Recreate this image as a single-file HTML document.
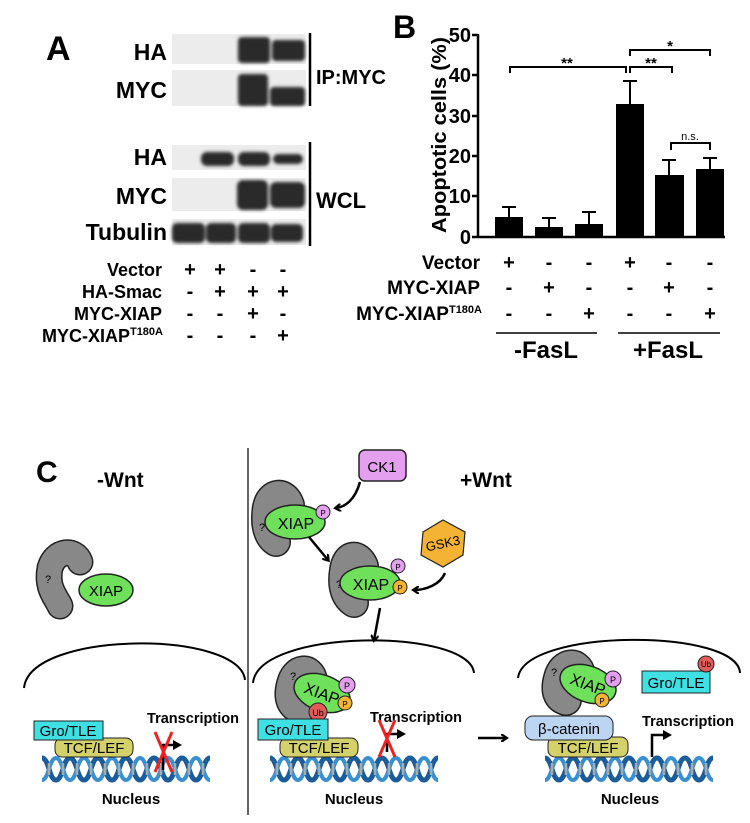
<!DOCTYPE html>
<html><head><meta charset="utf-8"><style>
html,body{margin:0;padding:0;background:#fff;}
svg{display:block;font-family:"Liberation Sans",sans-serif;font-weight:bold;}
</style></head><body>
<svg width="750" height="823" viewBox="0 0 750 823" xmlns="http://www.w3.org/2000/svg">
<defs>
<filter id="bl" x="-20%" y="-40%" width="140%" height="180%"><feGaussianBlur stdDeviation="1.6"/></filter>
<marker id="ah" markerWidth="8" markerHeight="8" refX="5" refY="4" orient="auto" markerUnits="userSpaceOnUse"><path d="M0,0 L6,4 L0,8" fill="none" stroke="#000" stroke-width="2.2"/></marker>
<marker id="ahf" markerWidth="10" markerHeight="10" refX="3" refY="5" orient="auto" markerUnits="userSpaceOnUse"><path d="M0,0 L9,5 L0,10 Z" fill="#000"/></marker>
<g id="dna">
<path d="M0,4 C7,4 7,26 14,26 C21,26 21,4 28,4 C35,4 35,26 42,26 C49,26 49,4 56,4 C63,4 63,26 70,26 C77,26 77,4 84,4 C91,4 91,26 98,26 C105,26 105,4 112,4 C119,4 119,26 126,26 C133,26 133,4 140,4 C147,4 147,26 154,26 C161,26 161,4 168,4" fill="none" stroke="#1b5d9b" stroke-width="5"/>
<path d="M0,26 C7,26 7,4 14,4 C21,4 21,26 28,26 C35,26 35,4 42,4 C49,4 49,26 56,26 C63,26 63,4 70,4 C77,4 77,26 84,26 C91,26 91,4 98,4 C105,4 105,26 112,26 C119,26 119,4 126,4 C133,4 133,26 140,26 C147,26 147,4 154,4 C161,4 161,26 168,26" fill="none" stroke="#3a8fd0" stroke-width="4"/>
<g stroke="#aaa" stroke-width="2.5"><line x1="7" y1="9" x2="7" y2="21"/><line x1="21" y1="9" x2="21" y2="21"/><line x1="35" y1="9" x2="35" y2="21"/><line x1="49" y1="9" x2="49" y2="21"/><line x1="63" y1="9" x2="63" y2="21"/><line x1="77" y1="9" x2="77" y2="21"/><line x1="91" y1="9" x2="91" y2="21"/><line x1="105" y1="9" x2="105" y2="21"/><line x1="119" y1="9" x2="119" y2="21"/><line x1="133" y1="9" x2="133" y2="21"/><line x1="147" y1="9" x2="147" y2="21"/><line x1="161" y1="9" x2="161" y2="21"/></g>
</g>
</defs>

<!-- Panel A -->
<text x="46" y="60" font-size="34">A</text>
<g fill="#ececec">
<rect x="172" y="34" width="134" height="30"/><rect x="172" y="70" width="134" height="36"/>
<rect x="172" y="145" width="134" height="25"/><rect x="172" y="178" width="134" height="33"/><rect x="172" y="219" width="134" height="26"/>
</g>
<g fill="#2a2a2a" filter="url(#bl)">
<rect x="238" y="37" width="32" height="26" rx="4"/><rect x="272" y="40" width="33" height="21" rx="4"/>
<rect x="238" y="74" width="30" height="32" rx="4"/><rect x="270" y="87" width="35" height="19" rx="4"/>
<rect x="201" y="152" width="33" height="14" rx="6"/><rect x="238" y="152" width="32" height="14" rx="6"/><rect x="273" y="154" width="30" height="10" rx="5"/>
<rect x="237" y="180" width="31" height="30" rx="6"/><rect x="270" y="182" width="35" height="26" rx="6"/>
<rect x="172" y="223" width="33" height="20" rx="5"/><rect x="206" y="223" width="30" height="20" rx="5"/><rect x="238" y="223" width="32" height="20" rx="5"/><rect x="271" y="224" width="32" height="18" rx="5"/>
</g>
<g stroke="#000" stroke-width="2.5"><line x1="310" y1="33" x2="310" y2="106"/><line x1="310" y1="142" x2="310" y2="246"/></g>
<text x="316" y="84" font-size="20">IP:MYC</text>
<text x="316" y="208" font-size="22">WCL</text>
<g font-size="23" text-anchor="end">
<text x="167" y="60">HA</text><text x="167" y="98">MYC</text><text x="167" y="165">HA</text><text x="167" y="204">MYC</text><text x="167" y="240">Tubulin</text>
</g>
<g font-size="18" text-anchor="end">
<text x="162" y="276">Vector</text><text x="162" y="298">HA-Smac</text><text x="162" y="320">MYC-XIAP</text>
<text x="163" y="342">MYC-XIAP<tspan font-size="11" dy="-7">T180A</tspan></text>
</g>
<g font-size="20" text-anchor="middle">
<text x="190" y="276">+</text><text x="220" y="276">+</text><text x="253" y="276">-</text><text x="283" y="276">-</text>
<text x="190" y="298">-</text><text x="220" y="298">+</text><text x="253" y="298">+</text><text x="283" y="298">+</text>
<text x="190" y="320">-</text><text x="220" y="320">-</text><text x="253" y="320">+</text><text x="283" y="320">-</text>
<text x="190" y="342">-</text><text x="220" y="342">-</text><text x="253" y="342">-</text><text x="283" y="342">+</text>
</g>

<!-- Panel B -->
<text x="393" y="38" font-size="32">B</text>
<text transform="translate(446,135) rotate(-90)" font-size="20" text-anchor="middle" textLength="196" lengthAdjust="spacingAndGlyphs">Apoptotic cells (%)</text>
<g stroke="#000" stroke-width="2.5" fill="none">
<line x1="478" y1="34" x2="478" y2="237"/><line x1="478" y1="237" x2="725" y2="237"/>
<line x1="472" y1="35" x2="478" y2="35"/><line x1="472" y1="75" x2="478" y2="75"/><line x1="472" y1="116" x2="478" y2="116"/><line x1="472" y1="156" x2="478" y2="156"/><line x1="472" y1="196" x2="478" y2="196"/><line x1="472" y1="237" x2="478" y2="237"/>
</g>
<g font-size="20" text-anchor="end">
<text x="471" y="42">50</text><text x="471" y="82">40</text><text x="471" y="123">30</text><text x="471" y="163">20</text><text x="471" y="203">10</text><text x="471" y="244">0</text>
</g>
<g fill="#000">
<rect x="495" y="217" width="28" height="20"/><rect x="535" y="227" width="28" height="10"/><rect x="575" y="224" width="28" height="13"/>
<rect x="616" y="104" width="28" height="133"/><rect x="655" y="175" width="29" height="62"/><rect x="696" y="169" width="28" height="68"/>
</g>
<g stroke="#000" stroke-width="2" fill="none">
<path d="M509,217 V207 M502,207 H516"/><path d="M549,227 V218 M542,218 H556"/><path d="M589,224 V212 M582,212 H596"/>
<path d="M630,104 V81 M623,81 H637"/><path d="M669,175 V160 M662,160 H676"/><path d="M710,169 V158 M703,158 H717"/>
<path d="M510,73 V67 H626 V73"/><path d="M630,73 V67 H672 V73"/><path d="M630,56 V50 H710 V56"/><path d="M671,150 V143 H710 V150"/>
</g>
<g text-anchor="middle"><text x="567" y="68" font-size="15">**</text><text x="651" y="68" font-size="15">**</text><text x="670" y="51" font-size="15">*</text><text x="690" y="140" font-size="11" font-weight="normal">n.s.</text></g>
<g font-size="19" text-anchor="end">
<text x="480" y="269">Vector</text><text x="480" y="294">MYC-XIAP</text><text x="482" y="320">MYC-XIAP<tspan font-size="11" dy="-7">T180A</tspan></text>
</g>
<g font-size="20" text-anchor="middle">
<text x="509" y="269">+</text><text x="549" y="269">-</text><text x="589" y="269">-</text><text x="630" y="269">+</text><text x="669" y="269">-</text><text x="710" y="269">-</text>
<text x="509" y="294">-</text><text x="549" y="294">+</text><text x="589" y="294">-</text><text x="630" y="294">-</text><text x="669" y="294">+</text><text x="710" y="294">-</text>
<text x="509" y="320">-</text><text x="549" y="320">-</text><text x="589" y="320">+</text><text x="630" y="320">-</text><text x="669" y="320">-</text><text x="710" y="320">+</text>
</g>
<g stroke="#000" stroke-width="1.5"><line x1="496" y1="333" x2="597" y2="333"/><line x1="618" y1="333" x2="720" y2="333"/></g>
<g font-size="24" text-anchor="middle"><text x="546" y="358">-FasL</text><text x="668" y="358">+FasL</text></g>

<!-- Panel C -->
<text x="36" y="482" font-size="30">C</text>
<text x="97" y="487" font-size="21">-Wnt</text>
<text x="460" y="487" font-size="21">+Wnt</text>
<line x1="248" y1="448" x2="248" y2="815" stroke="#333" stroke-width="1.5"/>

<!-- -Wnt complex -->
<path d="M80,562 C75,548 55,550 50,568 C46,588 56,597 60,606" fill="none" stroke="#222" stroke-width="27" stroke-linecap="round"/>
<path d="M80,562 C75,548 55,550 50,568 C46,588 56,597 60,606" fill="none" stroke="#888" stroke-width="24" stroke-linecap="round"/>
<text x="45" y="583" font-size="11" font-weight="normal">?</text>
<ellipse cx="106" cy="590" rx="27" ry="16" fill="#6ee05a" stroke="#222" stroke-width="1.5"/>
<text x="106" y="596" font-size="15" font-weight="normal" text-anchor="middle">XIAP</text>

<!-- CK1 -->
<rect x="359" y="450" width="47" height="31" rx="6" fill="#e4a0ee" stroke="#222" stroke-width="1.5"/>
<text x="382" y="472" font-size="15" font-weight="normal" text-anchor="middle">CK1</text>
<path d="M360,482 C355,500 345,507 336,508" fill="none" stroke="#000" stroke-width="2.5" marker-end="url(#ah)"/>

<!-- upper complex -->
<path d="M290,505 C285,490 270,492 267,507 C264,525 268,537 276,542" fill="none" stroke="#222" stroke-width="30" stroke-linecap="round"/>
<path d="M290,505 C285,490 270,492 267,507 C264,525 268,537 276,542" fill="none" stroke="#888" stroke-width="27" stroke-linecap="round"/>
<text x="259" y="531" font-size="11" font-weight="normal">?</text>
<ellipse cx="295" cy="522" rx="30" ry="17" fill="#6ee05a" stroke="#222" stroke-width="1.5"/>
<text x="296" y="529" font-size="16" font-weight="normal" text-anchor="middle">XIAP</text>
<circle cx="323" cy="512" r="7" fill="#e4a0ee" stroke="#222"/><text x="323" y="516" font-size="8" text-anchor="middle" font-weight="normal">P</text>
<path d="M309,537 L328,560" stroke="#000" stroke-width="2.5" marker-end="url(#ah)"/>

<!-- middle complex -->
<path d="M364,566 C358,552 346,554 344,570 C341,588 346,598 354,603" fill="none" stroke="#222" stroke-width="30" stroke-linecap="round"/>
<path d="M364,566 C358,552 346,554 344,570 C341,588 346,598 354,603" fill="none" stroke="#888" stroke-width="27" stroke-linecap="round"/>
<text x="336" y="588" font-size="11" font-weight="normal">?</text>
<ellipse cx="370" cy="583" rx="30" ry="17" fill="#6ee05a" stroke="#222" stroke-width="1.5"/>
<text x="371" y="590" font-size="16" font-weight="normal" text-anchor="middle">XIAP</text>
<circle cx="398" cy="566" r="7" fill="#e4a0ee" stroke="#222"/><text x="398" y="570" font-size="8" text-anchor="middle" font-weight="normal">P</text>
<circle cx="400" cy="587" r="7" fill="#f5b335" stroke="#222"/><text x="400" y="591" font-size="8" text-anchor="middle" font-weight="normal">P</text>
<polygon points="443,520 465,532 463,555 443,567 421,555 423,532" fill="#f5b335" stroke="#222" stroke-width="1.2"/>
<text x="443" y="548" font-size="13" font-weight="normal" text-anchor="middle" transform="rotate(-12 443 544)">GSK3</text>
<path d="M445,573 C440,585 425,590 414,590" fill="none" stroke="#000" stroke-width="2.5" marker-end="url(#ah)"/>
<path d="M380,608 L374,640" stroke="#000" stroke-width="2.5" marker-end="url(#ah)"/>

<!-- nuclear arcs -->
<g fill="none" stroke="#000" stroke-width="2">
<path d="M24,688 C30,630 240,630 245,680"/>
<path d="M253,683 C258,628 470,628 474,673"/>
<path d="M518,678 C524,628 738,628 740,673"/>
</g>

<!-- Left nucleus -->
<use href="#dna" x="42" y="754"/>
<rect x="55" y="738" width="78" height="19" rx="7" fill="#d4d06a" stroke="#222"/>
<text x="94" y="753" font-size="15" font-weight="normal" text-anchor="middle">TCF/LEF</text>
<rect x="34" y="721" width="69" height="19" fill="#3fe0e3" stroke="#222"/>
<text x="68" y="736" font-size="15" font-weight="normal" text-anchor="middle">Gro/TLE</text>
<text x="193" y="723" font-size="15" text-anchor="middle" textLength="92" lengthAdjust="spacingAndGlyphs">Transcription</text>
<path d="M163,770 V745 H176" fill="none" stroke="#000" stroke-width="2.5" marker-end="url(#ahf)"/>
<path d="M155,732 L172,772 M172,732 L155,772" stroke="#e22" stroke-width="3"/>
<text x="131" y="804" font-size="15" text-anchor="middle">Nucleus</text>

<!-- Middle nucleus -->
<use href="#dna" x="270" y="754"/>
<path d="M312,680 C310,668 296,668 292,684 C288,698 292,706 300,708" fill="none" stroke="#222" stroke-width="32" stroke-linecap="round"/>
<path d="M312,680 C310,668 296,668 292,684 C288,698 292,706 300,708" fill="none" stroke="#888" stroke-width="29" stroke-linecap="round"/>
<text x="290" y="680" font-size="11" font-weight="normal">?</text>
<ellipse cx="322" cy="693" rx="29" ry="18" fill="#6ee05a" stroke="#222" stroke-width="1.5" transform="rotate(20 322 693)"/>
<text x="322" y="699" font-size="16" font-weight="normal" text-anchor="middle" transform="rotate(20 322 693)">XIAP</text>
<circle cx="347" cy="685" r="8" fill="#e4a0ee" stroke="#222"/><text x="347" y="689" font-size="9" text-anchor="middle" font-weight="normal">P</text>
<circle cx="345" cy="703" r="7" fill="#f5b335" stroke="#222"/><text x="345" y="707" font-size="8" text-anchor="middle" font-weight="normal">P</text>
<circle cx="318" cy="712" r="9" fill="#e25a5a" stroke="#222"/><text x="318" y="716" font-size="9" text-anchor="middle" font-weight="normal">Ub</text>
<rect x="280" y="738" width="78" height="19" rx="7" fill="#d4d06a" stroke="#222"/>
<text x="319" y="753" font-size="15" font-weight="normal" text-anchor="middle">TCF/LEF</text>
<rect x="258" y="719" width="70" height="21" fill="#3fe0e3" stroke="#222"/>
<text x="293" y="735" font-size="15" font-weight="normal" text-anchor="middle">Gro/TLE</text>
<text x="416" y="722" font-size="15" text-anchor="middle" textLength="92" lengthAdjust="spacingAndGlyphs">Transcription</text>
<path d="M387,752 V734 H400" fill="none" stroke="#000" stroke-width="2.5" marker-end="url(#ahf)"/>
<path d="M379,720 L395,757 M395,720 L379,757" stroke="#e22" stroke-width="3"/>
<text x="354" y="804" font-size="15" text-anchor="middle">Nucleus</text>

<path d="M478,738 H506" stroke="#000" stroke-width="2.5" marker-end="url(#ah)"/>

<!-- Right nucleus -->
<use href="#dna" x="545" y="754"/>
<path d="M580,674 C578,662 563,662 559,678 C555,692 559,698 566,700" fill="none" stroke="#222" stroke-width="32" stroke-linecap="round"/>
<path d="M580,674 C578,662 563,662 559,678 C555,692 559,698 566,700" fill="none" stroke="#888" stroke-width="29" stroke-linecap="round"/>
<text x="551" y="676" font-size="11" font-weight="normal">?</text>
<ellipse cx="588" cy="684" rx="29" ry="18" fill="#6ee05a" stroke="#222" stroke-width="1.5" transform="rotate(20 588 684)"/>
<text x="588" y="690" font-size="16" font-weight="normal" text-anchor="middle" transform="rotate(20 588 684)">XIAP</text>
<circle cx="613" cy="679" r="8" fill="#e4a0ee" stroke="#222"/><text x="613" y="683" font-size="9" text-anchor="middle" font-weight="normal">P</text>
<circle cx="602" cy="700" r="7" fill="#f5b335" stroke="#222"/><text x="602" y="704" font-size="8" text-anchor="middle" font-weight="normal">P</text>
<rect x="642" y="671" width="68" height="22" fill="#3fe0e3" stroke="#222"/>
<text x="676" y="688" font-size="15" font-weight="normal" text-anchor="middle">Gro/TLE</text>
<circle cx="706" cy="664" r="8" fill="#e25a5a" stroke="#222"/><text x="706" y="667" font-size="8" text-anchor="middle" font-weight="normal">Ub</text>
<rect x="548" y="737" width="80" height="20" rx="7" fill="#d4d06a" stroke="#222"/>
<text x="588" y="753" font-size="15" font-weight="normal" text-anchor="middle">TCF/LEF</text>
<rect x="525" y="716" width="88" height="24" rx="8" fill="#bcd5f3" stroke="#222"/>
<text x="569" y="734" font-size="15" font-weight="normal" text-anchor="middle">β-catenin</text>
<text x="688" y="726" font-size="15" text-anchor="middle" textLength="92" lengthAdjust="spacingAndGlyphs">Transcription</text>
<path d="M652,757 V735 H666" fill="none" stroke="#000" stroke-width="2.5" marker-end="url(#ahf)"/>
<text x="630" y="804" font-size="15" text-anchor="middle">Nucleus</text>
</svg>
</body></html>
